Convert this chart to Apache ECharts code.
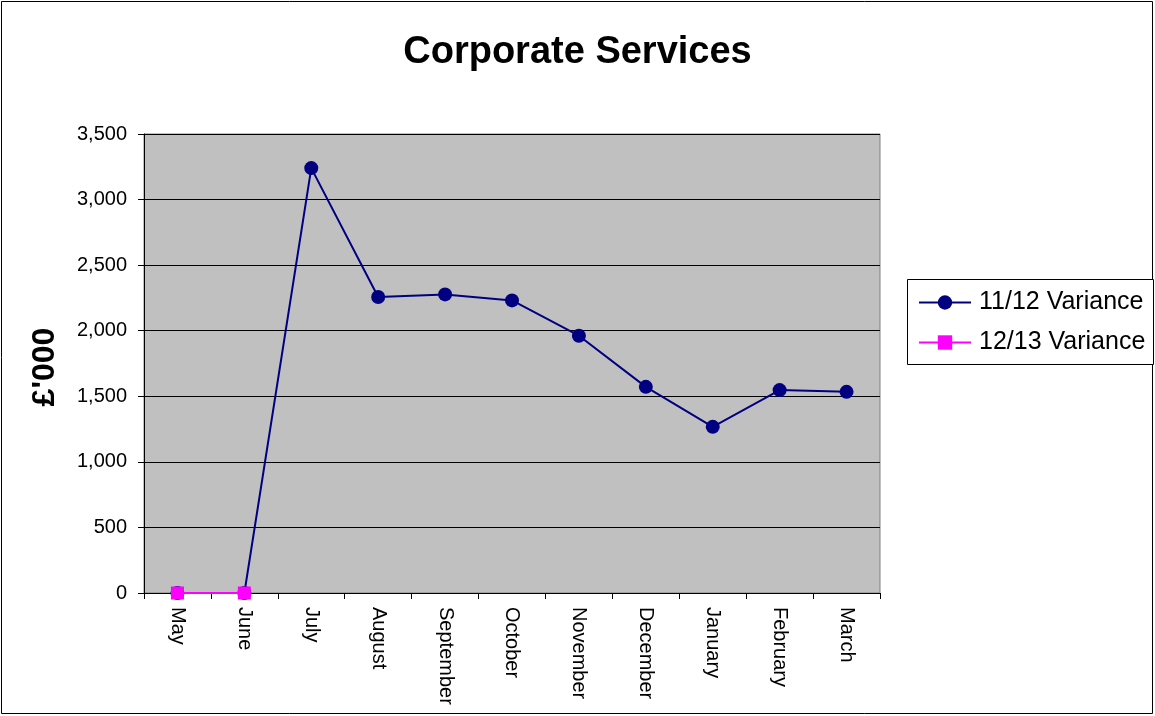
<!DOCTYPE html>
<html><head><meta charset="utf-8">
<script src="https://cdn.jsdelivr.net/npm/echarts@6/dist/echarts.min.js"></script>
<style>html,body{margin:0;padding:0;background:#fff}#c{width:1155px;height:716px}</style>
</head><body><div id="c"></div>
<script>
var categories = ['May','June','July','August','September','October','November','December','January','February','March'];
var variance1112 = [0, 0, 3240, 2257, 2277, 2231, 1962, 1572, 1267, 1547, 1534];
var variance1213 = [0, 0, null, null, null, null, null, null, null, null, null];
var yTicks = [0, 500, 1000, 1500, 2000, 2500, 3000, 3500];

var chart = echarts.init(document.getElementById('c'));
var font = 'Liberation Sans, Arial, sans-serif';
chart.setOption({
  animation: false,
  backgroundColor: '#fff',
  title: {text: 'Corporate Services', left: 'center', top: 29,
    textStyle: {fontFamily: font, fontSize: 38, fontWeight: 'bold', color: '#000'}},
  graphic: [
    {type: 'rect', shape: {x: 1.5, y: 1.5, width: 1151, height: 712}, style: {fill: 'none', stroke: '#000', lineWidth: 1}, silent: true, z: -1},
    {type: 'rect', shape: {x: 907.5, y: 279.5, width: 246, height: 85}, style: {fill: '#fff', stroke: '#000', lineWidth: 1}, silent: true, z: -1},
    {type: 'text', x: 45, y: 367, rotation: Math.PI/2, style: {text: "£'000", font: 'bold 32px ' + font, fill: '#000', textAlign: 'center', textVerticalAlign: 'middle'}}
  ],
  legend: {
    orient: 'vertical', left: 918, top: 290, borderWidth: 0, padding: 0, itemGap: 15,
    itemWidth: 52, itemHeight: 18,
    textStyle: {fontFamily: font, fontSize: 25, color: '#000', padding: [0, 0, 0, 3]},
    data: ['11/12 Variance', '12/13 Variance']
  },
  grid: {left: 144, right: 275, top: 134, bottom: 123, show: true, backgroundColor: '#C0C0C0', borderColor: '#808080', borderWidth: 1},
  xAxis: {
    type: 'category', data: categories, boundaryGap: true,
    axisLine: {lineStyle: {color: '#000', width: 1}},
    axisTick: {show: true, alignWithLabel: false, length: 6, lineStyle: {color: '#000'}},
    axisLabel: {rotate: -90, fontFamily: font, fontSize: 20, color: '#000', margin: 14, interval: 0}
  },
  yAxis: {
    type: 'value', min: 0, max: 3500, interval: 500,
    axisLine: {show: true, lineStyle: {color: '#000'}},
    axisTick: {show: true, length: 6, lineStyle: {color: '#000'}},
    splitLine: {lineStyle: {color: '#000', width: 1}},
    axisLabel: {fontFamily: font, fontSize: 20, color: '#000', margin: 17,
      formatter: function(v){ return yTicks.indexOf(v) >= 0 ? v.toLocaleString('en-US') : ''; }}
  },
  series: [
    {name: '11/12 Variance', type: 'line', data: variance1112, symbol: 'circle', symbolSize: 14,
      lineStyle: {color: '#000080', width: 2}, itemStyle: {color: '#000080'}, z: 2},
    {name: '12/13 Variance', type: 'line', data: variance1213, symbol: 'rect', symbolSize: 13,
      lineStyle: {color: '#FF00FF', width: 2}, itemStyle: {color: '#FF00FF'}, z: 3}
  ]
});
</script></body></html>
